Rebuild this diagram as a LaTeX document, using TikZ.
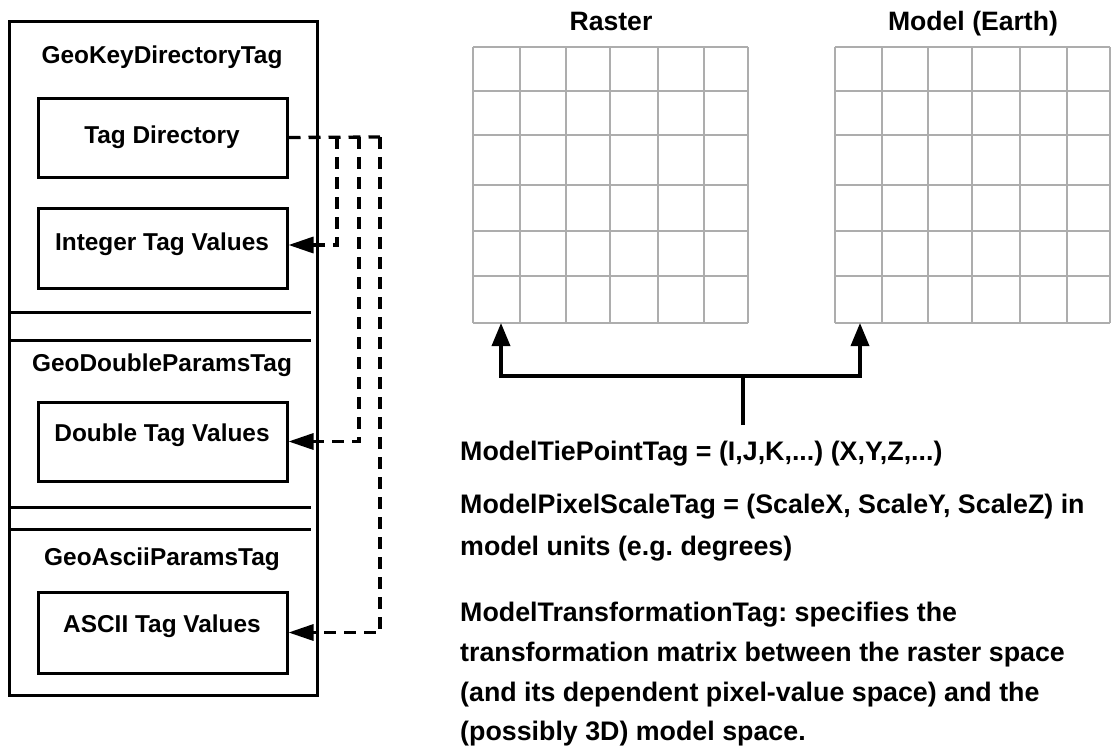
\documentclass[tikz,border=0pt]{standalone}
\usepackage{fontspec}
\setmainfont{Liberation Sans}
\usetikzlibrary{arrows.meta}
\frenchspacing
\begin{document}
\begin{tikzpicture}[x=1pt,y=-1pt,
  box/.style={draw, line width=3pt, inner sep=0pt},
  lft/.style={font=\fontsize{24.4}{29}\selectfont\bfseries, inner sep=0pt, text height=17.6pt, text depth=0pt},
  ttl/.style={font=\fontsize{26.6}{32}\selectfont\bfseries, inner sep=0pt, text height=19.1pt, text depth=0pt},
  rt/.style={font=\fontsize{26.8}{32}\selectfont\bfseries, inner sep=0pt, anchor=base west},
  dl/.style={line width=3.3pt, dash pattern=on 12pt off 8pt},
  conn/.style={dl, -{Triangle[length=25pt,width=16pt]}},
  sepline/.style={line width=3pt},
  gridl/.style={draw=black!32, line width=1.1pt},
  brk/.style={line width=3.5pt},
  brka/.style={brk, -{Triangle[length=23pt,width=18pt]}}
]
\useasboundingbox (0,0) rectangle (1111,747);

% left panel
\node[box, minimum width=308pt, minimum height=674pt] (outer) at (163,358) {};
\node[box, minimum width=249pt, minimum height=79pt] (tagdir) at (162.5,137.5) {};
\node[box, minimum width=249pt, minimum height=80pt] (intg) at (162.5,248) {};
\node[box, minimum width=249pt, minimum height=79pt] (dbl) at (162.5,441.5) {};
\node[box, minimum width=249pt, minimum height=81pt] (ascii) at (162.5,632.5) {};

\node[lft] (gkd) at (162,55) {GeoKeyDirectoryTag};
\node[lft] (tdl) at (162,135) {Tag Directory};
\node[lft] (itl) at (162,242) {Integer Tag Values};
\node[lft] (gdp) at (162,363) {GeoDoubleParamsTag};
\node[lft] (dtl) at (162,433) {Double Tag Values};
\node[lft] (gap) at (162,557) {GeoAsciiParamsTag};
\node[lft] (atl) at (162,624) {ASCII Tag Values};

\draw[sepline] (9,312) -- (311,312);
\draw[sepline] (9,340) -- (311,340);
\draw[sepline] (9,507) -- (311,507);
\draw[sepline] (9,529) -- (311,529);

% dashed connectors
\coordinate (ja) at (337,137);
\coordinate (jb) at (359,137);
\coordinate (jc) at (380,137);
\coordinate (ca) at (337,245);
\draw[dl] (tagdir.east) -- (jc);
\draw[conn] (ja) -- (ca) -- (intg.east |- ca);
\draw[conn] (jb) |- (dbl.east);
\draw[conn] (jc) |- (ascii.east);

% grids
\node[ttl] (rastert) at (611,21) {Raster};
\node[ttl] (modelt) at (973,21) {Model (Earth)};
\foreach \x in {473,520,566,610,658,704,748} \draw[gridl] (\x,47) -- (\x,323);
\foreach \x in {835,882,928,972,1020,1067,1110} \draw[gridl] (\x,47) -- (\x,323);
\foreach \y in {47,91,135,185,231,276,323} {
  \draw[gridl] (473,\y) -- (748,\y);
  \draw[gridl] (835,\y) -- (1110,\y);
}

% bracket arrows
\coordinate (hub) at (743,376);
\coordinate (stemend) at (743,425);
\coordinate (rtip) at (501,323);
\coordinate (mtip) at (860,323);
\draw[brk] (stemend) -- (hub);
\draw[brka] (hub) -| (rtip);
\draw[brka] (hub) -| (mtip);

% right text
\node[rt] (tie) at (460,460) {ModelTiePointTag = (I,J,K,...) (X,Y,Z,...)};
\node[rt] (pix1) at (460,513) {ModelPixelScaleTag = (ScaleX, ScaleY, ScaleZ) in};
\node[rt] (pix2) at (460,555) {model units (e.g. degrees)};
\node[rt] (tr1) at (460,621) {ModelTransformationTag: specifies the};
\node[rt] (tr2) at (460,661) {transformation matrix between the raster space};
\node[rt] (tr3) at (460,701) {(and its dependent pixel-value space) and the};
\node[rt] (tr4) at (460,740) {(possibly 3D) model space.};
\end{tikzpicture}
\end{document}
